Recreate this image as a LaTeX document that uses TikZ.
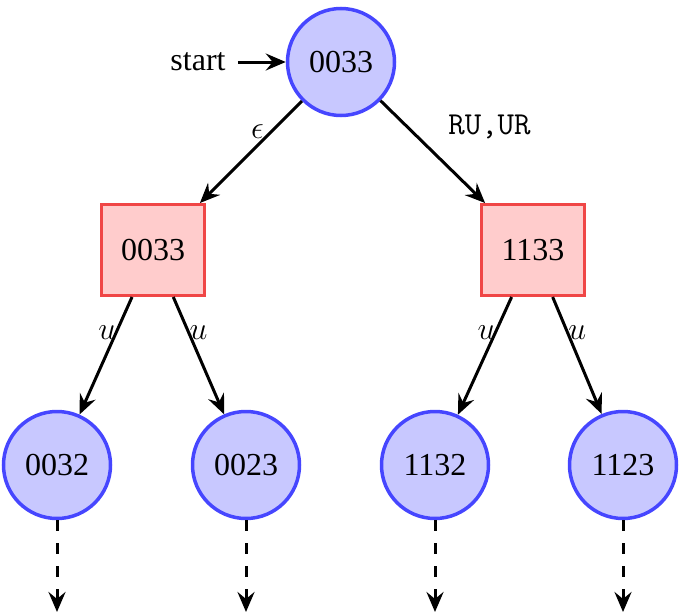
\documentclass[tikz,border=0pt]{standalone}
\usepackage{fix-cm}
\usepackage{fontspec}
\setmainfont{Liberation Serif}
\usetikzlibrary{arrows.meta}
\definecolor{stblue}{RGB}{70,70,255}
\definecolor{stfill}{RGB}{200,200,255}
\definecolor{bxred}{RGB}{240,70,70}
\definecolor{bxfill}{RGB}{255,204,204}
\begin{document}
\begin{tikzpicture}[x=1pt,y=-1pt,
 every node/.style={font=\fontsize{32}{38}\selectfont},
 st/.style={circle, draw=stblue, fill=stfill, line width=3.5pt, minimum size=107pt, inner sep=0pt},
 bx/.style={rectangle, draw=bxred, fill=bxfill, line width=3pt, minimum width=103pt, minimum height=91pt},
 arr/.style={line width=3pt, -{Stealth[length=20pt,width=17pt,inset=7pt]}},
 darr/.style={arr, dash pattern=on 11pt off 12pt},
 lab/.style={inner sep=0pt}]
\useasboundingbox (0,0) rectangle (685,613);
\node[st] (r) at (341,62) {0033};
\node[bx] (a) at (153,250) {0033};
\node[bx] (b) at (533,250) {1133};
\node[st] (a1) at (57,465) {0032};
\node[st] (a2) at (246,465) {0023};
\node[st] (b1) at (435,465) {1132};
\node[st] (b2) at (623,465) {1123};
\node[inner sep=12pt] (s) at (198,62) {start};
\coordinate (a1e) at (57,612);
\coordinate (a2e) at (246,612);
\coordinate (b1e) at (435,612);
\coordinate (b2e) at (623,612);
\draw[arr] (s) -- (r);
\draw[arr] (r) -- node[lab, pos=0.3, anchor=east, xshift=-6pt]{$\epsilon$} (a);
\draw[arr] (r) -- node[lab, pos=0.5, anchor=south west, xshift=14pt, yshift=11pt]{\texttt{RU,UR}} (b);
\draw[arr] (a) -- node[lab, pos=0.3, xshift=-9pt]{$u$} (a1);
\draw[arr] (a) -- node[lab, pos=0.3, xshift=10pt]{$u$} (a2);
\draw[arr] (b) -- node[lab, pos=0.3, xshift=-9pt]{$u$} (b1);
\draw[arr] (b) -- node[lab, pos=0.3, xshift=10pt]{$u$} (b2);
\draw[darr] (a1) -- (a1e);
\draw[darr] (a2) -- (a2e);
\draw[darr] (b1) -- (b1e);
\draw[darr] (b2) -- (b2e);
\end{tikzpicture}
\end{document}
